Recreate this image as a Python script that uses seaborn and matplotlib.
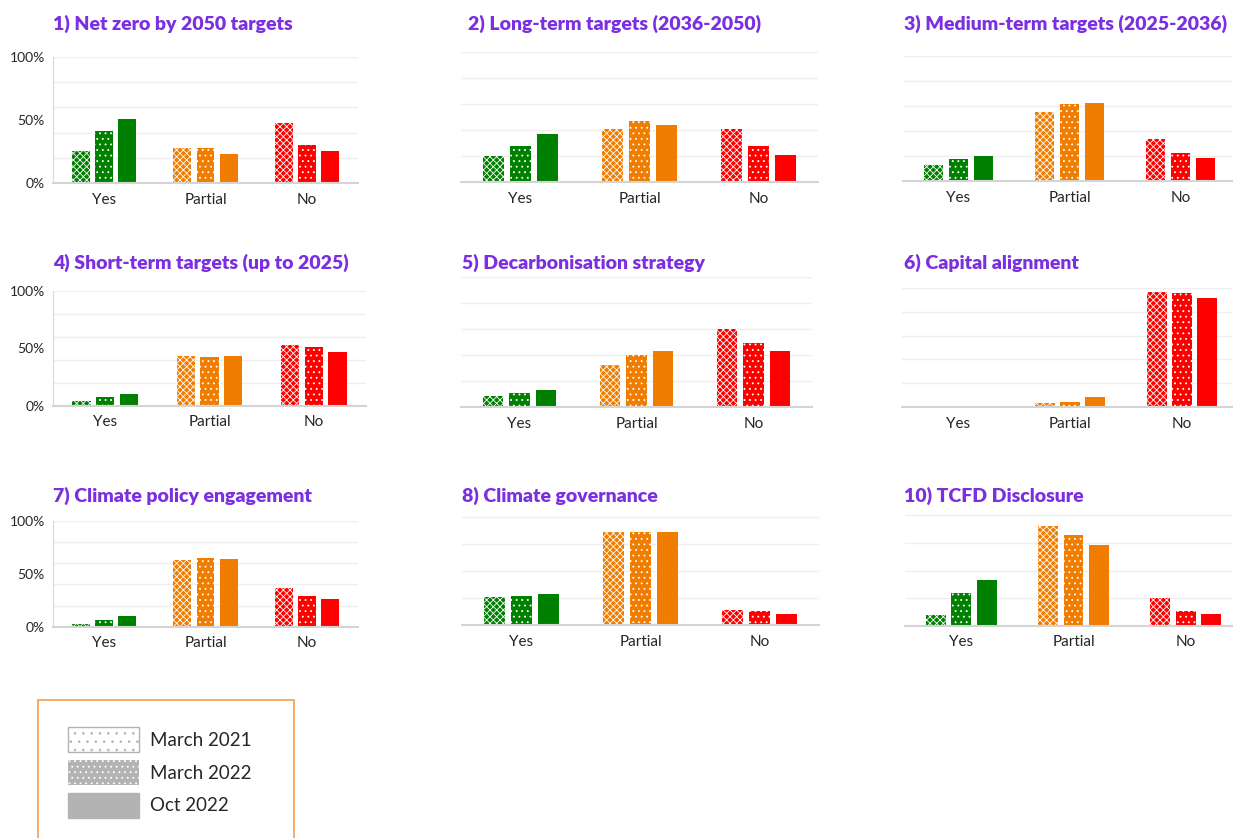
import matplotlib
matplotlib.use("Agg")
import matplotlib.pyplot as plt
from matplotlib.patches import Patch, Rectangle
import seaborn as sns
import pandas as pd

# values, rows = Yes / Partial / No, cols = periods
periods = ["March 2021", "March 2022", "Oct 2022"]
categories = ["Yes", "Partial", "No"]

net_zero = [[25, 41, 51], [28, 28, 23], [48, 30, 25]]
long_term = [[20, 28, 37], [41, 47, 44], [41, 28, 21]]
medium_term = [[13, 17.6, 20], [55, 61.6, 62.4], [33.6, 22.4, 18.4]]
short_term = [[3.8, 7.8, 10], [43, 42, 43], [52.5, 51, 46.7]]
decarb = [[8.7, 11, 13.3], [32.4, 40, 43], [60, 49, 43]]
capital = [[0, 0, 0.5], [3.6, 4.5, 8.6], [96.4, 95.5, 91.4]]
policy = [[2.5, 6.3, 10], [63, 64.8, 63.8], [36.5, 29, 26]]
governance = [[20.7, 21.5, 23], [68.9, 68.9, 68.9], [11, 10.4, 8.1]]
tcfd = [[7.7, 23.6, 33], [72, 65.5, 58.3], [20, 10.6, 8.4]]

titles = ["1) Net zero by 2050 targets", "2) Long-term targets (2036-2050)",
          "3) Medium-term targets (2025-2036)", "4) Short-term targets (up to 2025)",
          "5) Decarbonisation strategy", "6) Capital alignment",
          "7) Climate policy engagement", "8) Climate governance",
          "10) TCFD Disclosure"]
panels = [net_zero, long_term, medium_term, short_term, decarb, capital,
          policy, governance, tcfd]

cat_colors = ["#008000", "#f07d00", "#ff0000"]
period_hatch = ["xxxxx", "...", ""]
purple = "#7b2fe0"
text_col = "#262626"

sns.set_style("white")
plt.rcParams["font.family"] = ["Lato", "DejaVu Sans"]
plt.rcParams["hatch.linewidth"] = 0.6

W, H = 1233, 838
fig = plt.figure(figsize=(W / 100, H / 100), dpi=100)

# pixel layout: x0, x1, y of 0%, y of 100%, ylim top, title x, title y
layout = [
    (53, 358, 183, 57, 100, 53, 24),
    (461, 818, 182, 52, 100, 468, 24),
    (903, 1236, 181, 55.7, 100, 904, 24),
    (53, 366, 405.7, 290.7, 100, 53, 263),
    (461, 812, 407.3, 276.7, 100, 462, 263),
    (902, 1238, 407.3, 287.7, 100, 904, 263),
    (53, 358, 626.7, 520.7, 100, 53, 496),
    (462, 819, 625, 490, 85, 462, 496),
    (905, 1242, 625.7, 487.7, 85, 904, 496),
]

for k, (vals, title, lay) in enumerate(zip(panels, titles, layout)):
    x0, x1, yz, y100, ymax, tx, ty = lay
    ytop = yz - (yz - y100) * ymax / 100
    ax = fig.add_axes([x0 / W, 1 - yz / H, (x1 - x0) / W, (yz - ytop) / H])

    df = pd.DataFrame([
        {"category": c, "period": p, "value": vals[i][j]}
        for i, c in enumerate(categories) for j, p in enumerate(periods)
    ])
    sns.barplot(data=df, x="category", y="value", hue="period",
                order=categories, hue_order=periods, width=0.68, gap=0.22,
                legend=False, ax=ax, zorder=2)

    for i, cont in enumerate(ax.containers):
        for j, bar in enumerate(cont):
            bar.set_facecolor(cat_colors[j])
            bar.set_edgecolor("white")
            bar.set_linewidth(0)
            bar.set_hatch(period_hatch[i])

    ax.set_yticks(range(0, 101, 20))
    ax.set_yticklabels([])
    ax.set_xlim(-0.5, 2.5)
    ax.set_ylim(0, ymax)
    ax.yaxis.grid(True, color="#efefef", linewidth=1, zorder=0)
    ax.set_xlabel("")
    ax.set_ylabel("")
    ax.tick_params(axis="x", length=0, pad=7, labelsize=11, labelcolor=text_col)
    ax.tick_params(axis="y", which="both", length=0, pad=6)
    for side in ["top", "right"]:
        ax.spines[side].set_visible(False)
    ax.spines["bottom"].set_color("#d4d4d4")
    ax.spines["bottom"].set_linewidth(1.5)
    if k % 3 == 0:
        ax.yaxis.remove_overlapping_locs = False
        ax.set_yticks([0, 50, 100], minor=True)
        ax.set_yticklabels(["0%", "50%", "100%"], minor=True, fontsize=10,
                           color=text_col)
        ax.spines["left"].set_color("#d9d9d9")
        ax.spines["left"].set_bounds(0, 100)
    else:
        ax.spines["left"].set_visible(False)

    fig.text(tx / W, 1 - ty / H, title, ha="left", va="center",
             fontsize=14, fontweight="heavy", color=purple)

# legend box
fig.add_artist(Rectangle((38 / W, -0.02), (294 - 38) / W, (838 - 700) / H + 0.02,
                         transform=fig.transFigure, fill=False,
                         edgecolor="#f5a04b", linewidth=1.2))
handles = [
    Patch(facecolor="white", edgecolor="#b3b3b3", hatch=".."),
    Patch(facecolor="#b3b3b3", edgecolor="white", hatch="...", linewidth=0),
    Patch(facecolor="#b3b3b3", edgecolor="#b3b3b3"),
]
fig.legend(handles, periods, loc="upper left",
           bbox_to_anchor=(68 / W, 1 - 727 / H), frameon=False,
           borderaxespad=0, borderpad=0, fontsize=13.5, handlelength=3.8,
           handleheight=1.7, labelspacing=0.4, handletextpad=0.6,
           labelcolor=text_col)

fig.savefig("out.png", dpi=100)
